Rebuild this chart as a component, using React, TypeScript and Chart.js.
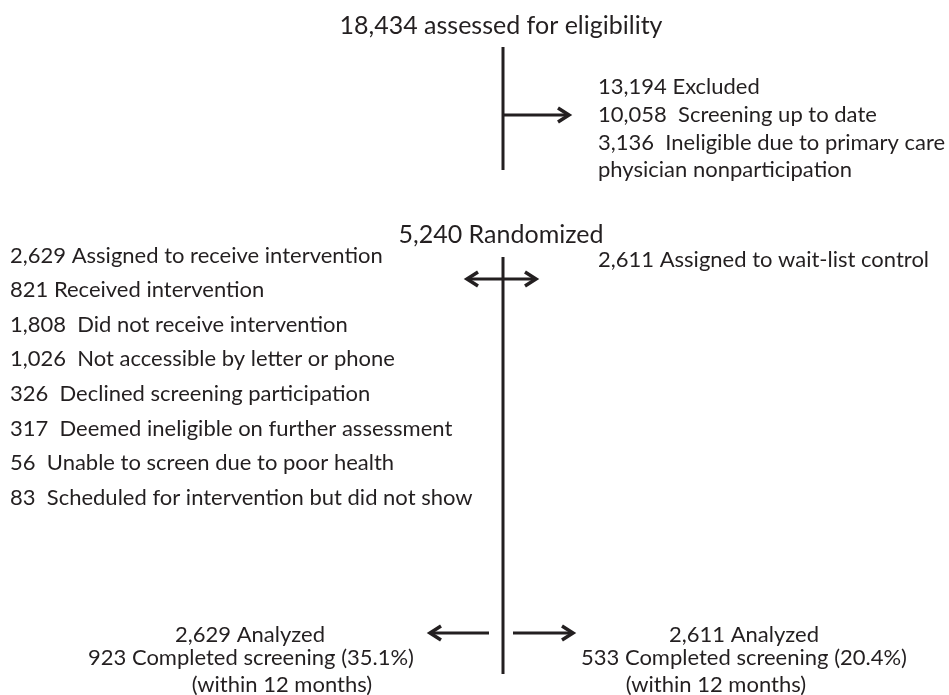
import React, { useEffect, useRef } from "react";
import { Chart, registerables } from "chart.js";

Chart.register(...registerables);

// ---------- Text content ----------
const titleText = "18,434 assessed for eligibility";
const excludedLines = [
  "13,194 Excluded",
  "10,058  Screening up to date",
  "3,136  Ineligible due to primary care",
  "physician nonparticipation",
];
const randomizedText = "5,240 Randomized";
const interventionLines = [
  "2,629 Assigned to receive intervention",
  "821 Received intervention",
  "1,808  Did not receive intervention",
  "1,026  Not accessible by letter or phone",
  "326  Declined screening participation",
  "317  Deemed ineligible on further assessment",
  "56  Unable to screen due to poor health",
  "83  Scheduled for intervention but did not show",
];
const controlText = "2,611 Assigned to wait-list control";
const analyzedLeftLines = ["2,629 Analyzed", "923 Completed screening (35.1%)", "(within 12 months)"];
const analyzedRightLines = ["2,611 Analyzed", "533 Completed screening (20.4%)", "(within 12 months)"];

// ---------- Connector paths (diagram coordinates) ----------
const stemEligibility = [[503, 47], [503, 170]];
const arrowExcluded = [[503, 115], [569, 115]];
const stemRandomized = [[503, 257], [503, 674]];
const arrowAllocation = [[467, 279], [536, 279]];
const arrowAnalyzedLeft = [[489, 633], [430, 633]];
const arrowAnalyzedRight = [[513, 633], [573, 633]];

// ---------- Layout / style ----------
const W = 949;
const H = 695;
const INK = "#231f20";
const FONT = 'Lato, "Open Sans", sans-serif';
const HEAD_BACK = 11;
const HEAD_HALF = 7;

type Pt = number[];

function headAt(tip: Pt, from: Pt): Pt[] {
  const dx = tip[0] - from[0];
  const dir = dx >= 0 ? 1 : -1;
  return [
    [tip[0] - dir * HEAD_BACK, tip[1] - HEAD_HALF],
    [tip[0], tip[1]],
    [tip[0] - dir * HEAD_BACK, tip[1] + HEAD_HALF],
  ];
}

function toData(pts: Pt[]) {
  return pts.map((p) => ({ x: p[0], y: p[1] }));
}

function lineDs(pts: Pt[], width = 3) {
  return {
    data: toData(pts),
    showLine: true,
    borderColor: INK,
    backgroundColor: INK,
    borderWidth: width,
    pointRadius: 0,
    pointHoverRadius: 0,
    borderCapStyle: "butt" as const,
    borderJoinStyle: "miter" as const,
    fill: false,
    tension: 0,
  };
}

type TextItem = { text: string; x: number; y: number; align: CanvasTextAlign; size: number };

function buildTexts(): TextItem[] {
  const items: TextItem[] = [];
  items.push({ text: titleText, x: 501, y: 34, align: "center", size: 25 });
  const exclBase = [94, 122, 150, 177];
  excludedLines.forEach((t, i) => items.push({ text: t, x: 598, y: exclBase[i], align: "left", size: 22 }));
  items.push({ text: randomizedText, x: 501, y: 243, align: "center", size: 25 });
  const intBase = [263, 297, 332, 366, 401, 436, 470, 505];
  interventionLines.forEach((t, i) => items.push({ text: t, x: 10, y: intBase[i], align: "left", size: 22 }));
  items.push({ text: controlText, x: 598, y: 267, align: "left", size: 22 });
  const anBase = [642, 665, 692];
  const leftCx = [250, 251, 282];
  const rightCx = [744, 744, 716];
  analyzedLeftLines.forEach((t, i) => items.push({ text: t, x: leftCx[i], y: anBase[i], align: "center", size: 22 }));
  analyzedRightLines.forEach((t, i) => items.push({ text: t, x: rightCx[i], y: anBase[i], align: "center", size: 22 }));
  return items;
}

const textPlugin = {
  id: "flowText",
  afterDatasetsDraw(chart: any) {
    const ctx = chart.ctx as CanvasRenderingContext2D;
    const xs = chart.scales.x;
    const ys = chart.scales.y;
    ctx.save();
    ctx.fillStyle = INK;
    ctx.textBaseline = "alphabetic";
    for (const it of buildTexts()) {
      ctx.font = `${it.size}px ${FONT}`;
      ctx.textAlign = it.align;
      ctx.fillText(it.text, xs.getPixelForValue(it.x), ys.getPixelForValue(it.y));
    }
    ctx.restore();
  },
};

export default function App() {
  const ref = useRef<HTMLCanvasElement | null>(null);

  useEffect(() => {
    if (!ref.current) return;
    const datasets = [
      lineDs(stemEligibility),
      lineDs(arrowExcluded),
      lineDs(headAt(arrowExcluded[1], arrowExcluded[0]), 3.5),
      lineDs(stemRandomized),
      lineDs(arrowAllocation),
      lineDs(headAt(arrowAllocation[0], arrowAllocation[1]), 3.5),
      lineDs(headAt(arrowAllocation[1], arrowAllocation[0]), 3.5),
      lineDs(arrowAnalyzedLeft),
      lineDs(headAt(arrowAnalyzedLeft[1], arrowAnalyzedLeft[0]), 3.5),
      lineDs(arrowAnalyzedRight),
      lineDs(headAt(arrowAnalyzedRight[1], arrowAnalyzedRight[0]), 3.5),
    ];
    const chart = new Chart(ref.current, {
      type: "scatter",
      data: { datasets: datasets as any },
      options: {
        animation: false,
        responsive: false,
        maintainAspectRatio: false,
        layout: { padding: 0 },
        events: [],
        plugins: { legend: { display: false }, tooltip: { enabled: false } },
        scales: {
          x: { type: "linear", min: 0, max: W, display: false },
          y: { type: "linear", min: 0, max: H, reverse: true, display: false },
        },
      },
      plugins: [textPlugin],
    });
    return () => chart.destroy();
  }, []);

  return (
    <div style={{ position: "fixed", left: 0, top: 0, width: W, height: H, background: "#fff" }}>
      <canvas ref={ref} width={W} height={H} style={{ display: "block", width: W, height: H }} />
    </div>
  );
}
